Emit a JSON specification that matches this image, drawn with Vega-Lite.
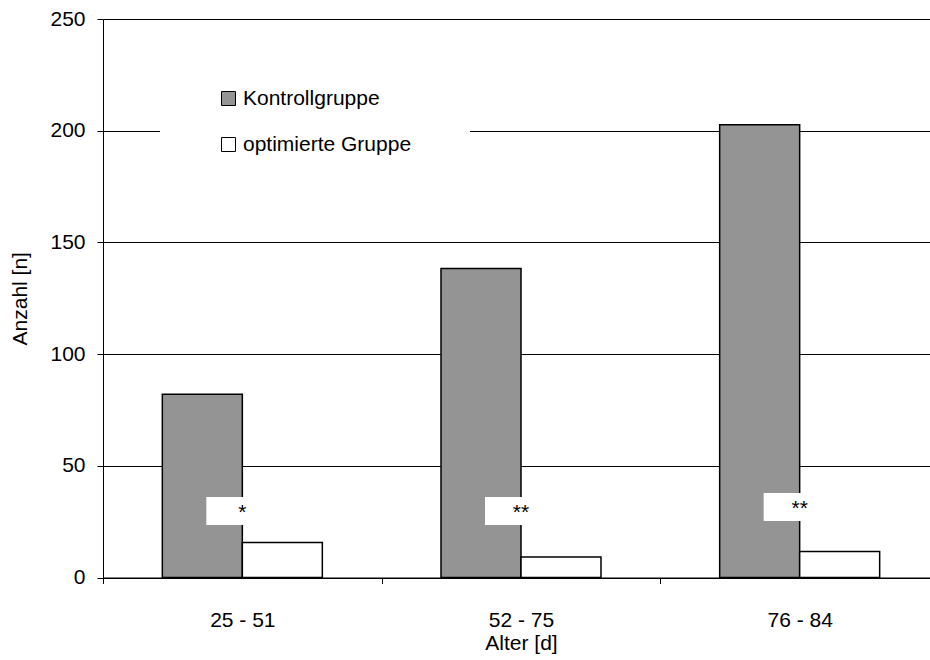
{
  "$schema": "https://vega.github.io/schema/vega-lite/v6.json",
  "width": 827,
  "height": 558.5,
  "autosize": {"type": "none"},
  "padding": {"left": 103, "top": 19, "right": 0, "bottom": 82.5},
  "background": "white",
  "config": {
    "font": "Liberation Sans",
    "view": {"stroke": null},
    "axis": {"domainColor": "black", "domainWidth": 1, "tickColor": "black", "labelColor": "black", "titleColor": "black", "titleFontWeight": "normal", "labelFontSize": 21, "titleFontSize": 21}
  },
  "datasets": {
    "bars": [
      {"Alter": "25 - 51", "Gruppe": "Kontrollgruppe", "Anzahl": 82},
      {"Alter": "25 - 51", "Gruppe": "optimierte Gruppe", "Anzahl": 15.7},
      {"Alter": "52 - 75", "Gruppe": "Kontrollgruppe", "Anzahl": 138.3},
      {"Alter": "52 - 75", "Gruppe": "optimierte Gruppe", "Anzahl": 9.2},
      {"Alter": "76 - 84", "Gruppe": "Kontrollgruppe", "Anzahl": 202.7},
      {"Alter": "76 - 84", "Gruppe": "optimierte Gruppe", "Anzahl": 11.6}
    ],
    "marks": [
      {"Alter": "25 - 51", "Signifikanz": "*", "Anzahl": 29.8},
      {"Alter": "52 - 75", "Signifikanz": "**", "Anzahl": 29.8},
      {"Alter": "76 - 84", "Signifikanz": "**", "Anzahl": 31.6}
    ]
  },
  "encoding": {
    "x": {
      "field": "Alter",
      "type": "nominal",
      "sort": ["25 - 51", "52 - 75", "76 - 84"],
      "scale": {"range": [0, 836], "paddingInner": 0, "paddingOuter": 0},
      "axis": {"title": "Alter [d]", "tickBand": "extent", "labelAngle": 0, "labelPadding": 26, "tickSize": 6, "titlePadding": 2, "grid": false}
    },
    "y": {
      "field": "Anzahl",
      "type": "quantitative",
      "scale": {"domain": [0, 250], "nice": false},
      "axis": {"title": "Anzahl [n]", "values": [0, 50, 100, 150, 200, 250], "grid": true, "gridColor": "black", "gridWidth": 1, "gridOpacity": 1, "tickSize": 6, "labelPadding": 12, "titlePadding": 19}
    }
  },
  "layer": [
    {
      "data": {"name": "bars"},
      "mark": {"type": "bar", "stroke": "black", "strokeWidth": 1.5},
      "encoding": {
        "xOffset": {"field": "Gruppe", "type": "nominal", "sort": ["Kontrollgruppe", "optimierte Gruppe"], "scale": {"paddingInner": 0, "paddingOuter": 0.7417}},
        "color": {
          "field": "Gruppe",
          "type": "nominal",
          "scale": {"domain": ["Kontrollgruppe", "optimierte Gruppe"], "range": ["#949494", "#ffffff"]},
          "legend": {"orient": "none", "legendX": 57, "legendY": 11, "title": null, "fillColor": "white", "padding": 58, "symbolType": "square", "symbolSize": 196, "symbolStrokeColor": "black", "symbolStrokeWidth": 1, "labelFontSize": 21, "labelOffset": 4, "labelLimit": 400, "rowPadding": 24, "labelColor": "black"}
        }
      }
    },
    {
      "data": {"name": "marks"},
      "mark": {"type": "point", "shape": "M-1,-0.389H1V0.389H-1Z", "size": 5184, "filled": true, "fill": "white", "opacity": 1, "strokeWidth": 0}
    },
    {
      "data": {"name": "marks"},
      "mark": {"type": "text", "fontSize": 21, "dy": 8, "baseline": "alphabetic", "color": "black"},
      "encoding": {"text": {"field": "Signifikanz"}}
    }
  ]
}
